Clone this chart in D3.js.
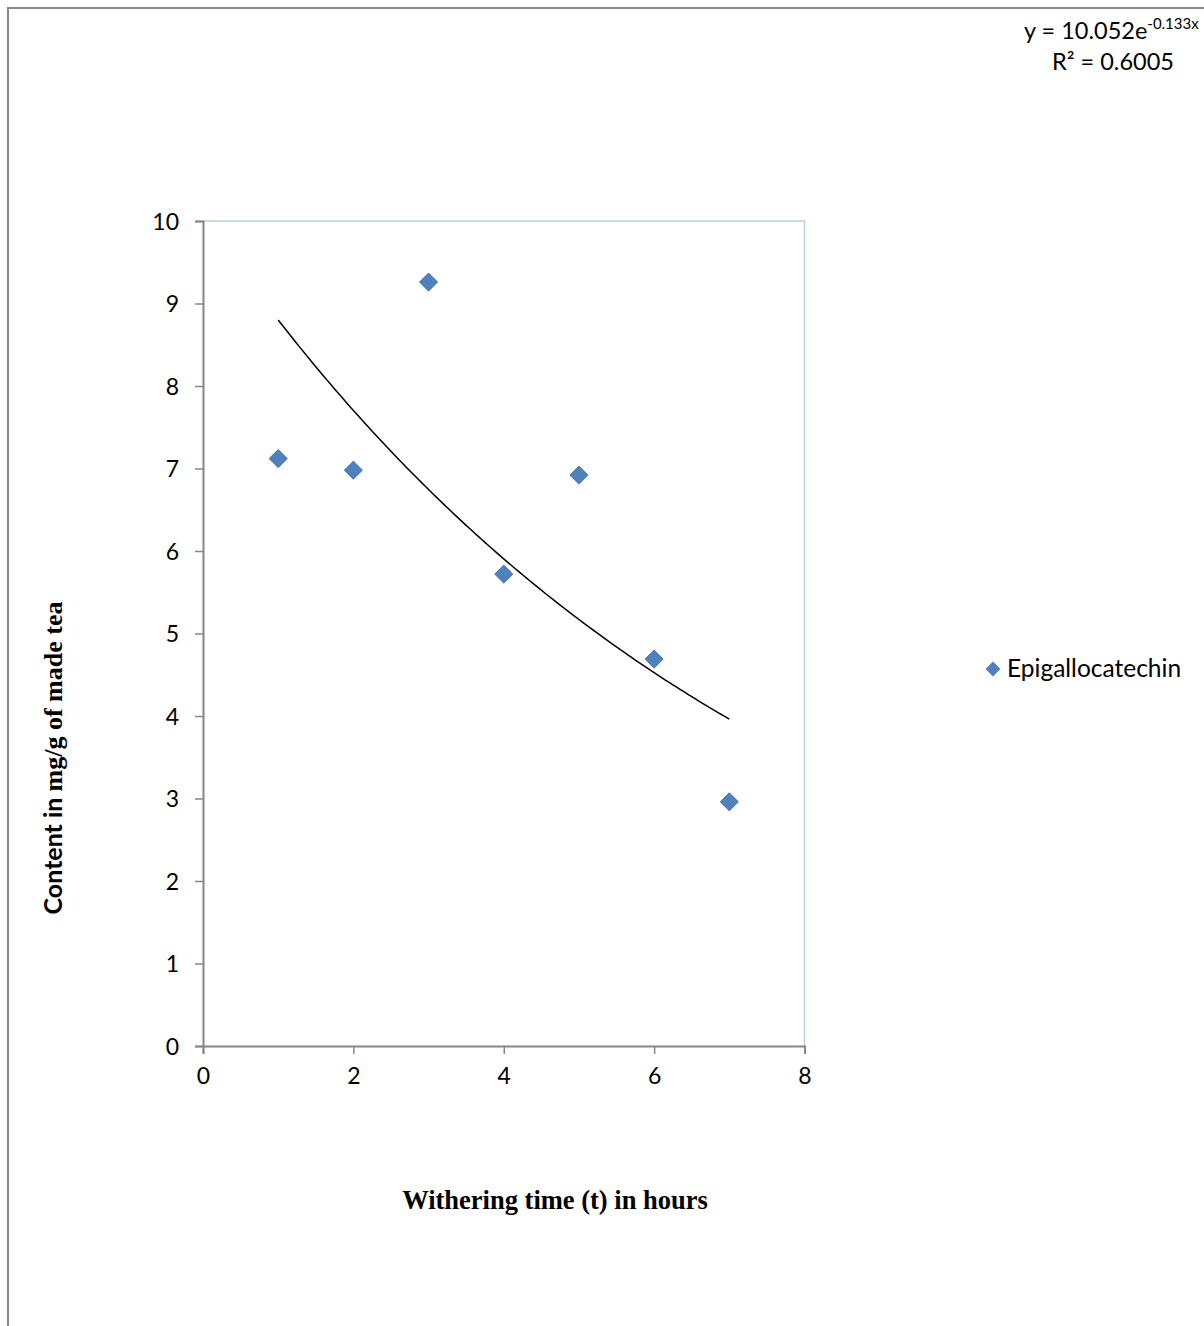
<!DOCTYPE html>
<html><head><meta charset="utf-8">
<script src="https://cdn.jsdelivr.net/npm/d3@7"></script>
<style>body{margin:0;background:#fff}svg{display:block}</style>
</head><body>
<script>
const hours = [1, 2, 3, 4, 5, 6, 7];
const egc = [7.12, 6.98, 9.26, 5.72, 6.92, 4.69, 2.96];
const seriesName = "Epigallocatechin";
const xTicks = [0, 2, 4, 6, 8];
const yTicks = [0, 1, 2, 3, 4, 5, 6, 7, 8, 9, 10];
const fitA = 10.052, fitB = -0.133;
const fitX = [1, 7];

const W = 1204, H = 1326;
const svg = d3.select("body").append("svg").attr("width", W).attr("height", H);
const sans = "Lato, 'Open Sans', sans-serif";

// outer chart frame
svg.append("path").attr("d", `M8,${H+5}V8H${W+5}`).attr("fill","none").attr("stroke","#878787").attr("stroke-width",2);

const x = d3.scaleLinear().domain([0, 8]).range([203, 804.5]);
const y = d3.scaleLinear().domain([0, 10]).range([1046, 221]);

// plot area border (top/right light blue)
svg.append("path").attr("d", `M${x(0)},${y(10)}H${x(8)}V${y(0)}`).attr("fill","none").attr("stroke","#b9cde5").attr("stroke-width",1.5);

const yAxis = svg.append("g").attr("transform", `translate(${x(0)},0)`)
  .call(d3.axisLeft(y).tickValues(yTicks).tickSize(8).tickFormat(d3.format("d")));
const xAxis = svg.append("g").attr("transform", `translate(0,${y(0)})`)
  .call(d3.axisBottom(x).tickValues(xTicks).tickSize(8).tickFormat(d3.format("d")));
[yAxis, xAxis].forEach(g => {
  g.select(".domain").attr("stroke","#868686").attr("stroke-width",2);
  g.selectAll(".tick line").attr("stroke","#868686").attr("stroke-width",1.5);
  g.selectAll("text").attr("font-family", sans).attr("font-size", 23).attr("fill","#000");
});
yAxis.selectAll(".tick line").attr("x1", -8).attr("x2", 0);
yAxis.selectAll("text").attr("x", -24).attr("dy","0.35em");
xAxis.selectAll("text").attr("y", 22).attr("dy","0.71em");

// trendline
const line = d3.line().x(d => x(d)).y(d => y(fitA * Math.exp(fitB * d))).curve(d3.curveLinear);
const fitPts = d3.range(fitX[0], fitX[1] + 0.0001, 0.05);
svg.append("path").attr("d", line(fitPts)).attr("fill","none").attr("stroke","#000").attr("stroke-width",1.5);

// points
const diamond = d3.symbol().type(d3.symbolSquare).size(165);
svg.selectAll(".pt").data(hours).join("path")
  .attr("d", diamond)
  .attr("transform", (d,i) => `translate(${x(d)},${y(egc[i])}) rotate(45)`)
  .attr("fill","#4f81bd").attr("stroke","#3c6eaa").attr("stroke-width",0.8);

// legend
svg.append("path").attr("d", d3.symbol().type(d3.symbolSquare).size(110))
  .attr("transform","translate(993,669) rotate(45)").attr("fill","#4f81bd");
svg.append("text").attr("x",1007).attr("y",677).attr("font-family",sans).attr("font-size",24.5).text(seriesName);

// equation
const eq = svg.append("text").attr("x",1024).attr("y",39).attr("font-family",sans).attr("font-size",23.5);
eq.append("tspan").text("y = 10.052e");
eq.append("tspan").attr("dy",-10).attr("font-size",15).text("-0.133x");
svg.append("text").attr("x",1052).attr("y",70).attr("font-family",sans).attr("font-size",23.5).text("R² = 0.6005");

// axis titles
svg.append("text").attr("x",555).attr("y",1209).attr("text-anchor","middle")
  .attr("font-family","'Liberation Serif', serif").attr("font-weight","bold").attr("font-size",26.5)
  .text("Withering time (t) in hours");
const yt = svg.append("text").attr("transform","translate(62,758) rotate(-90)").attr("text-anchor","middle").attr("font-weight","bold").attr("font-size",25);
yt.append("tspan").attr("font-family",sans).text("Content in ");
yt.append("tspan").attr("font-family","'Liberation Serif', serif").attr("font-size",26).text("mg/g of made tea");
</script>
</body></html>
